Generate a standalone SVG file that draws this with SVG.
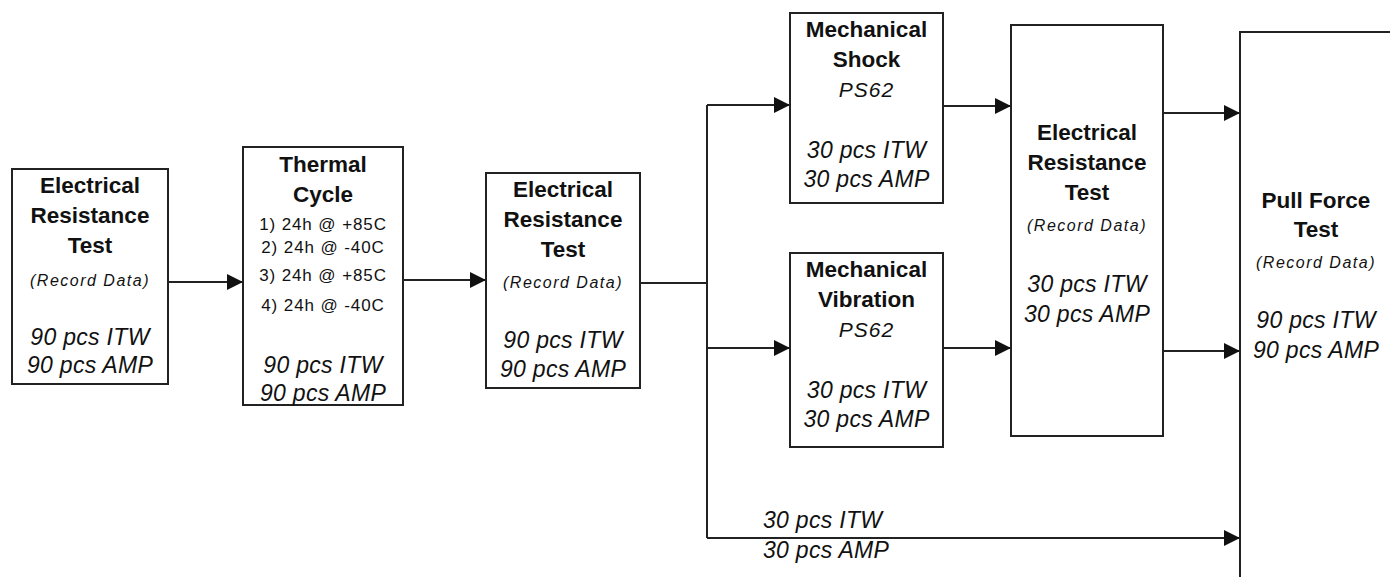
<svg xmlns="http://www.w3.org/2000/svg" width="1390" height="577" viewBox="0 0 1390 577">
<defs>
<marker id="arr" markerUnits="userSpaceOnUse" markerWidth="17" markerHeight="17" refX="16" refY="8" orient="auto">
<path d="M0,0 L16,8 L0,16 z" fill="#111"/>
</marker>
<style>
.box{fill:#fff;stroke:#222;stroke-width:2}
.ln{fill:none;stroke:#222;stroke-width:2}
text{font-family:"Liberation Sans",Arial,sans-serif;fill:#111;text-anchor:middle}
.b{font-weight:bold;font-size:22.5px}
.rd{font-style:italic;font-size:16px;letter-spacing:1.5px}
.pc{font-style:italic;font-size:23px;letter-spacing:0.3px}
.ps{font-style:italic;font-size:21px;letter-spacing:1px}
.st{font-size:17px;letter-spacing:0.9px}
</style>
</defs>
<rect width="1390" height="577" fill="#fff"/>
<g id="connectors">
<line class="ln" x1="168" y1="282" x2="243" y2="282" marker-end="url(#arr)"/>
<line class="ln" x1="403" y1="280" x2="486" y2="280" marker-end="url(#arr)"/>
<polyline class="ln" points="640,283 707,283"/>
<line class="ln" x1="707" y1="105" x2="707" y2="538"/>
<line class="ln" x1="707" y1="105" x2="790" y2="105" marker-end="url(#arr)"/>
<line class="ln" x1="707" y1="348" x2="790" y2="348" marker-end="url(#arr)"/>
<line class="ln" x1="707" y1="538" x2="1240" y2="538" marker-end="url(#arr)"/>
<line class="ln" x1="943" y1="106" x2="1011" y2="106" marker-end="url(#arr)"/>
<line class="ln" x1="943" y1="348" x2="1011" y2="348" marker-end="url(#arr)"/>
<line class="ln" x1="1163" y1="113" x2="1240" y2="113" marker-end="url(#arr)"/>
<line class="ln" x1="1163" y1="351" x2="1240" y2="351" marker-end="url(#arr)"/>
<text class="pc" x="763" y="528" style="text-anchor:start">30 pcs ITW</text>
<text class="pc" x="763" y="558" style="text-anchor:start">30 pcs AMP</text>
</g>
<g id="er1">
<rect class="box" x="12" y="169" width="156" height="215"/>
<text class="b" x="90" y="193">Electrical</text>
<text class="b" x="90" y="223">Resistance</text>
<text class="b" x="90" y="253">Test</text>
<text class="rd" x="90" y="286">(Record Data)</text>
<text class="pc" x="90" y="345">90 pcs ITW</text>
<text class="pc" x="90" y="373">90 pcs AMP</text>
</g>
<g id="thermal">
<rect class="box" x="243" y="147" width="160" height="258"/>
<text class="b" x="323" y="172">Thermal</text>
<text class="b" x="323" y="202">Cycle</text>
<text class="st" x="323" y="230">1) 24h @ +85C</text>
<text class="st" x="323" y="253">2) 24h @ -40C</text>
<text class="st" x="323" y="281">3) 24h @ +85C</text>
<text class="st" x="323" y="311">4) 24h @ -40C</text>
<text class="pc" x="323" y="373">90 pcs ITW</text>
<text class="pc" x="323" y="401">90 pcs AMP</text>
</g>
<g id="er2">
<rect class="box" x="486" y="173" width="154" height="215"/>
<text class="b" x="563" y="197">Electrical</text>
<text class="b" x="563" y="227">Resistance</text>
<text class="b" x="563" y="257">Test</text>
<text class="rd" x="563" y="288">(Record Data)</text>
<text class="pc" x="563" y="348">90 pcs ITW</text>
<text class="pc" x="563" y="377">90 pcs AMP</text>
</g>
<g id="shock">
<rect class="box" x="790" y="13" width="153" height="190"/>
<text class="b" x="866.5" y="37">Mechanical</text>
<text class="b" x="866.5" y="67">Shock</text>
<text class="ps" x="866.5" y="97">PS62</text>
<text class="pc" x="866.5" y="158">30 pcs ITW</text>
<text class="pc" x="866.5" y="187">30 pcs AMP</text>
</g>
<g id="vibration">
<rect class="box" x="790" y="253" width="153" height="194"/>
<text class="b" x="866.5" y="277">Mechanical</text>
<text class="b" x="866.5" y="307">Vibration</text>
<text class="ps" x="866.5" y="337">PS62</text>
<text class="pc" x="866.5" y="398">30 pcs ITW</text>
<text class="pc" x="866.5" y="427">30 pcs AMP</text>
</g>
<g id="er3">
<rect class="box" x="1011" y="25" width="152" height="411"/>
<text class="b" x="1087" y="140">Electrical</text>
<text class="b" x="1087" y="170">Resistance</text>
<text class="b" x="1087" y="200">Test</text>
<text class="rd" x="1087" y="231">(Record Data)</text>
<text class="pc" x="1087" y="292">30 pcs ITW</text>
<text class="pc" x="1087" y="322">30 pcs AMP</text>
</g>
<g id="pull">
<rect class="box" x="1240" y="32" width="200" height="600"/>
<text class="b" x="1316" y="208">Pull Force</text>
<text class="b" x="1316" y="237">Test</text>
<text class="rd" x="1316" y="268">(Record Data)</text>
<text class="pc" x="1316" y="328">90 pcs ITW</text>
<text class="pc" x="1316" y="358">90 pcs AMP</text>
</g>
</svg>
